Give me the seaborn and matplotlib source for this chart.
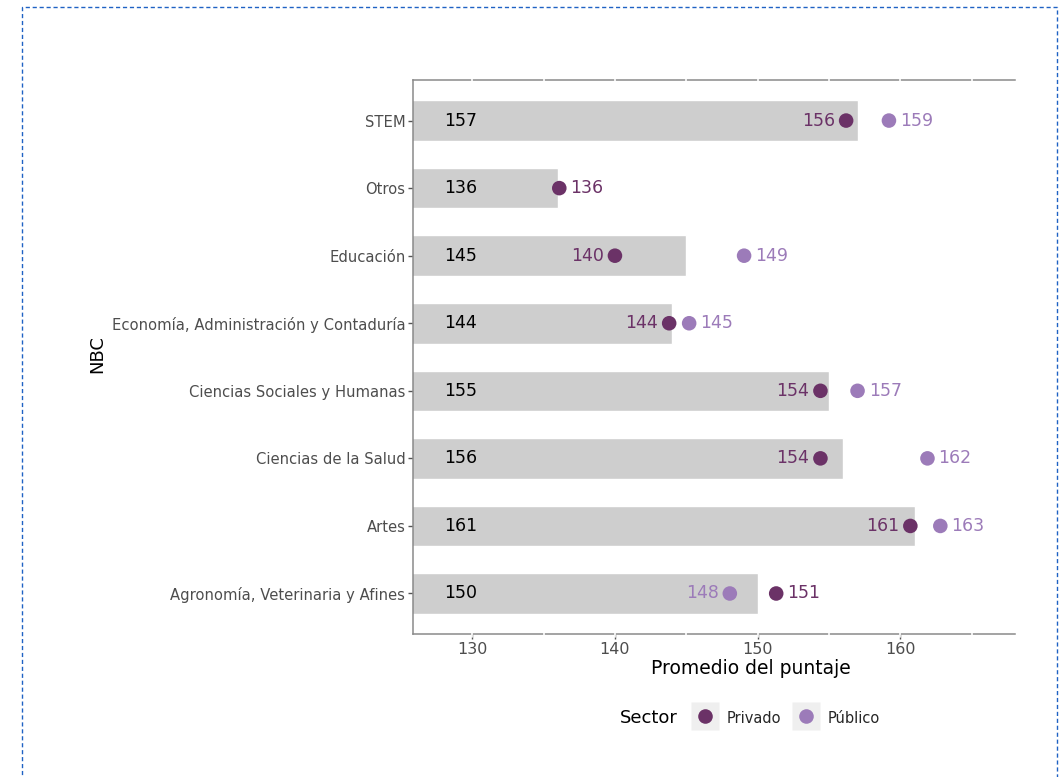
import numpy as np
import pandas as pd
import matplotlib
matplotlib.use("Agg")
import matplotlib.pyplot as plt
import seaborn as sns
from matplotlib.patches import Rectangle
from matplotlib.lines import Line2D
import matplotlib.transforms as mtransforms

# ---- data ----
categories = ["STEM", "Otros", "Educación", "Economía, Administración y Contaduría",
              "Ciencias Sociales y Humanas", "Ciencias de la Salud", "Artes",
              "Agronomía, Veterinaria y Afines"]
total = [157, 136, 145, 144, 155, 156, 161, 150]
privado = [156.2, 136.1, 140.0, 143.8, 154.4, 154.4, 160.7, 151.3]
publico = [159.2, np.nan, 149.05, 145.2, 157.0, 161.9, 162.8, 148.05]
sectors = ["Privado", "Público"]
sector_colors = {"Privado": "#6b3267", "Público": "#9c7bb9"}

sns.set_theme(style="white")
plt.rcParams["font.family"] = ["DejaVu Sans"]

fig = plt.figure(figsize=(10.59, 7.77), dpi=100)
ax = fig.add_axes([0.39, 0.184, 0.568, 0.713])

df_bar = pd.DataFrame({"NBC": categories, "Total": total})
sns.barplot(data=df_bar, y="NBC", x="Total", order=categories, color="#cecece",
            saturation=1, width=0.6, ax=ax, orient="h", zorder=1)

rows = []
for i, c in enumerate(categories):
    rows.append({"pos": i, "NBC": c, "Sector": "Privado", "val": privado[i]})
    if not np.isnan(publico[i]):
        rows.append({"pos": i, "NBC": c, "Sector": "Público", "val": publico[i]})
df_pts = pd.DataFrame(rows)
sns.scatterplot(data=df_pts, x="val", y="pos", hue="Sector", palette=sector_colors,
                s=110, edgecolor="none", legend=False, ax=ax, zorder=3)

# value labels
for i, c in enumerate(categories):
    ax.text(128.0, i, f"{total[i]:.0f}", ha="left", va="center", fontsize=12.5,
            color="black", zorder=4)
    vals = [("Privado", privado[i]), ("Público", publico[i])]
    vals = [(s, v) for s, v in vals if not np.isnan(v)]
    if len(vals) == 1:
        s, v = vals[0]
        ax.annotate(f"{v:.0f}", (v, i), xytext=(8, 0), textcoords="offset points",
                    ha="left", va="center", fontsize=12.5, color=sector_colors[s])
    else:
        lo = min(vals, key=lambda t: t[1])
        hi = max(vals, key=lambda t: t[1])
        ax.annotate(f"{lo[1]:.0f}", (lo[1], i), xytext=(-8, 0), textcoords="offset points",
                    ha="right", va="center", fontsize=12.5, color=sector_colors[lo[0]])
        ax.annotate(f"{hi[1]:.0f}", (hi[1], i), xytext=(8, 0), textcoords="offset points",
                    ha="left", va="center", fontsize=12.5, color=sector_colors[hi[0]])

ax.set_xlim(125.85, 168.0)
ax.set_ylim(len(categories) - 1 + 0.6, -0.6)
ax.set_xticks([130, 140, 150, 160])
ax.grid(False)

for side in ["left", "top", "bottom"]:
    ax.spines[side].set_visible(True)
    ax.spines[side].set_color("#8a8a8a")
    ax.spines[side].set_linewidth(1.1)
ax.spines["right"].set_visible(False)

# white grid breaks on the top/bottom spines
trans = mtransforms.blended_transform_factory(ax.transData, ax.transAxes)
for gx in [130, 135, 140, 145, 150, 155, 160, 165]:
    ax.plot([gx, gx], [0.994, 1.006], color="white", lw=1.2, transform=trans,
            clip_on=False, zorder=5)
    ax.plot([gx, gx], [-0.006, 0.006], color="white", lw=1.2, transform=trans,
            clip_on=False, zorder=5)

ax.tick_params(axis="both", which="both", length=3.5, width=1, color="#555555",
               left=True, bottom=True, labelcolor="#4d4d4d", pad=2)
ax.tick_params(axis="y", labelsize=10.6)
ax.tick_params(axis="x", labelsize=11.5)
ax.set_xlabel("Promedio del puntaje", fontsize=13.5, color="black")
ax.xaxis.set_label_coords(0.561, -0.045)
ax.set_ylabel("NBC", fontsize=13, color="black")
ax.yaxis.set_label_coords(-0.51, 0.505)

# legend
handles = []
for s in sectors:
    bg = Line2D([], [], marker="s", linestyle="none", markersize=20,
                markerfacecolor="#efefef", markeredgecolor="none")
    mk = Line2D([], [], marker="o", linestyle="none", markersize=10.5,
                markerfacecolor=sector_colors[s], markeredgecolor="none")
    handles.append((bg, mk))
leg = fig.legend(handles, sectors, loc="center", bbox_to_anchor=(0.743, 0.076),
                 ncol=2, frameon=False, fontsize=10.5, handlelength=1.6,
                 handleheight=1.6, handletextpad=0.7, columnspacing=0.9)
fig.text(0.585, 0.076, "Sector", fontsize=13, ha="left", va="center", color="black")

# dashed outer border
border = Rectangle((22 / 1059, -0.05), (1057 - 22) / 1059, 1.05 - 7 / 777,
                   transform=fig.transFigure, fill=False, edgecolor="#1f62c4",
                   linestyle=(0, (3, 2)), linewidth=1.0, clip_on=False)
fig.patches.append(border)

fig.savefig("out.png", dpi=100)
